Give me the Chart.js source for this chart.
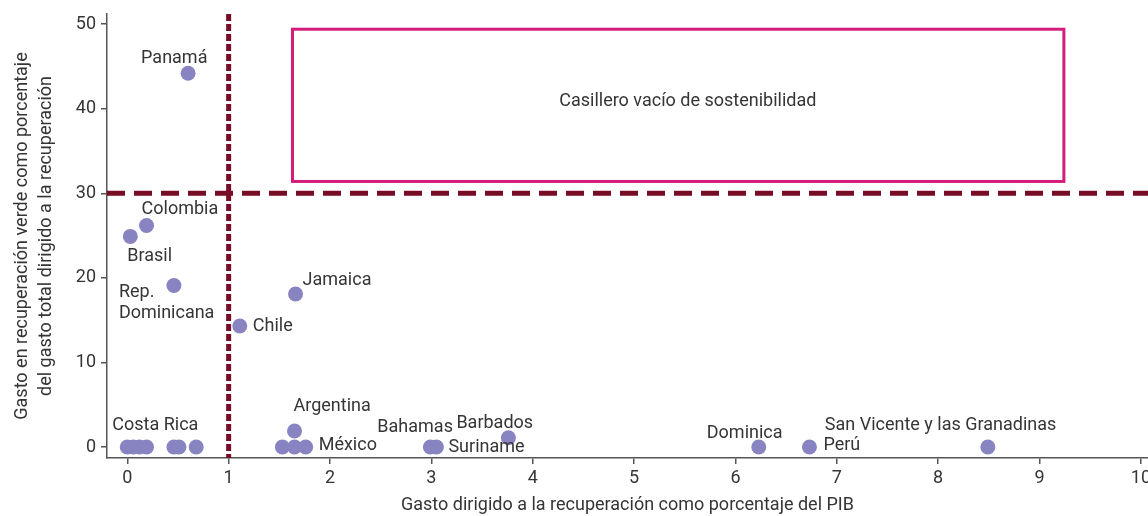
<!DOCTYPE html>
<html>
<head>
<meta charset="utf-8">
<script src="https://cdn.jsdelivr.net/npm/chart.js@4.4.1/dist/chart.umd.min.js"></script>
<style>
  html, body { margin: 0; padding: 0; background: #fff; }
  #wrap { width: 1148px; height: 516px; }
</style>
</head>
<body>
<div id="wrap"><canvas id="chart"></canvas></div>
<script>
// Country names ('' = unlabeled point in a cluster)
const countries = [
  'Panamá', 'Colombia', 'Brasil', 'Rep. Dominicana', 'Chile', 'Jamaica', 'Argentina',
  'Costa Rica', '', '', '', '', '', '',
  '', '', 'México', 'Bahamas', 'Suriname', 'Barbados',
  'Dominica', 'Perú', 'San Vicente y las Granadinas'
];
// Gasto dirigido a la recuperación (% del PIB)
const recoveryShareGdp = [
  0.60, 0.19, 0.03, 0.46, 1.11, 1.66, 1.65,
  0.00, 0.06, 0.12, 0.19, 0.46, 0.51, 0.68,
  1.53, 1.65, 1.76, 2.99, 3.05, 3.76,
  6.23, 6.73, 8.49
];
// Gasto verde (% del gasto total de recuperación)
const greenShare = [
  44.2, 26.2, 24.9, 19.1, 14.3, 18.1, 1.9,
  0, 0, 0, 0, 0, 0, 0,
  0, 0, 0, 0, 0, 1.1,
  0, 0, 0
];
const xTickValues = [0, 1, 2, 3, 4, 5, 6, 7, 8, 9, 10];
const yTickValues = [0, 10, 20, 30, 40, 50];

// reference thresholds and the empty box
const gdpThreshold = 1;
const greenThreshold = 30;
const emptyBox = { x1: 1.63, x2: 9.24, y1: 31.4, y2: 49.4 };
const emptyBoxText = 'Casillero vacío de sostenibilidad';

// label placement relative to the point (pixels)
const labelOffsets = {
  'Panamá': { dx: -47, dy: -15 },
  'Colombia': { dx: -5, dy: -16 },
  'Brasil': { dx: -3, dy: 20 },
  'Rep. Dominicana': { dx: -55, dy: 7, lines: ['Rep.', 'Dominicana'] },
  'Chile': { dx: 13, dy: 0 },
  'Jamaica': { dx: 7, dy: -13 },
  'Argentina': { dx: -1, dy: -24 },
  'Costa Rica': { dx: -15, dy: -22 },
  'México': { dx: 13, dy: -2 },
  'Bahamas': { dx: -53, dy: -20 },
  'Suriname': { dx: 12, dy: 0 },
  'Barbados': { dx: -52, dy: -14 },
  'Dominica': { dx: -52, dy: -14 },
  'Perú': { dx: 14, dy: -2 },
  'San Vicente y las Granadinas': { dx: -163, dy: -22 }
};

const FONT = 'Roboto, "Noto Sans", sans-serif';
const TEXT = '#353535';

const overlays = {
  id: 'overlays',
  beforeDatasetsDraw(chart) {
    const { ctx, chartArea, scales: { x, y } } = chart;
    ctx.save();
    // empty box
    ctx.strokeStyle = '#d41c7b';
    ctx.lineWidth = 3;
    const bx1 = x.getPixelForValue(emptyBox.x1), bx2 = x.getPixelForValue(emptyBox.x2);
    const by1 = y.getPixelForValue(emptyBox.y1), by2 = y.getPixelForValue(emptyBox.y2);
    ctx.strokeRect(bx1, by2, bx2 - bx1, by1 - by2);
    ctx.fillStyle = TEXT;
    ctx.font = '18px ' + FONT;
    ctx.textAlign = 'center';
    ctx.textBaseline = 'middle';
    ctx.fillText(emptyBoxText, x.getPixelForValue(5.53), y.getPixelForValue(40.8));
    // threshold lines
    ctx.strokeStyle = '#780c26';
    ctx.lineWidth = 5;
    const hy = y.getPixelForValue(greenThreshold);
    ctx.setLineDash([18, 9]);
    ctx.beginPath();
    ctx.moveTo(chartArea.left, hy);
    ctx.lineTo(chartArea.right, hy);
    ctx.stroke();
    const vx = x.getPixelForValue(gdpThreshold);
    ctx.setLineDash([7, 3]);
    ctx.beginPath();
    ctx.moveTo(vx, chartArea.top);
    ctx.lineTo(vx, chartArea.bottom);
    ctx.stroke();
    ctx.restore();
  },
  afterDatasetsDraw(chart) {
    const { ctx } = chart;
    const meta = chart.getDatasetMeta(0);
    ctx.save();
    ctx.fillStyle = TEXT;
    ctx.font = '18px ' + FONT;
    ctx.textAlign = 'left';
    ctx.textBaseline = 'middle';
    countries.forEach((name, i) => {
      if (!name) return;
      const off = labelOffsets[name];
      const pt = meta.data[i];
      const lines = off.lines || [name];
      lines.forEach((line, k) => {
        ctx.fillText(line, pt.x + off.dx, pt.y + off.dy + k * 21);
      });
    });
    ctx.restore();
  }
};

new Chart(document.getElementById('chart'), {
  type: 'scatter',
  data: {
    datasets: [{
      data: recoveryShareGdp.map((v, i) => ({ x: v, y: greenShare[i] })),
      backgroundColor: '#8883c1',
      borderWidth: 0,
      pointRadius: 7.5,
      pointHoverRadius: 7.5
    }]
  },
  plugins: [overlays],
  options: {
    responsive: true,
    maintainAspectRatio: false,
    animation: false,
    devicePixelRatio: 1,
    layout: { autoPadding: false, padding: { top: 14, right: 0, left: 0, bottom: 0 } },
    plugins: { legend: { display: false }, tooltip: { enabled: false } },
    scales: {
      x: {
        type: 'linear',
        min: -0.2,
        max: 10.07,
        afterBuildTicks: s => { s.ticks = xTickValues.map(v => ({ value: v })); },
        afterFit: s => { s.height = 58; s.paddingLeft = 0; s.paddingRight = 0; },
        grid: { drawOnChartArea: false, drawTicks: true, tickLength: 6, color: '#555', lineWidth: 1.5 },
        border: { display: true, color: '#555', width: 1.5 },
        ticks: { color: TEXT, font: { family: FONT, size: 18 }, padding: 4, maxRotation: 0 },
        title: {
          display: true,
          text: 'Gasto dirigido a la recuperación como porcentaje del PIB',
          color: TEXT,
          font: { family: FONT, size: 18, lineHeight: 1.2 },
          padding: { top: 0, bottom: 0 }
        }
      },
      y: {
        type: 'linear',
        min: -1.3,
        max: 51.2,
        afterBuildTicks: s => { s.ticks = yTickValues.map(v => ({ value: v })); },
        afterFit: s => { s.width = 107; s.paddingTop = 0; s.paddingBottom = 0; },
        grid: { drawOnChartArea: false, drawTicks: true, tickLength: 6, color: '#555', lineWidth: 1.5 },
        border: { display: true, color: '#555', width: 1.5 },
        ticks: { color: TEXT, font: { family: FONT, size: 18 }, padding: 5 },
        title: {
          display: true,
          text: ['Gasto en recuperación verde como porcentaje', 'del gasto total dirigido a la recuperación'],
          color: TEXT,
          font: { family: FONT, size: 18, lineHeight: 1.3 },
          padding: { top: 11, bottom: 0 }
        }
      }
    }
  }
});
</script>
</body>
</html>
